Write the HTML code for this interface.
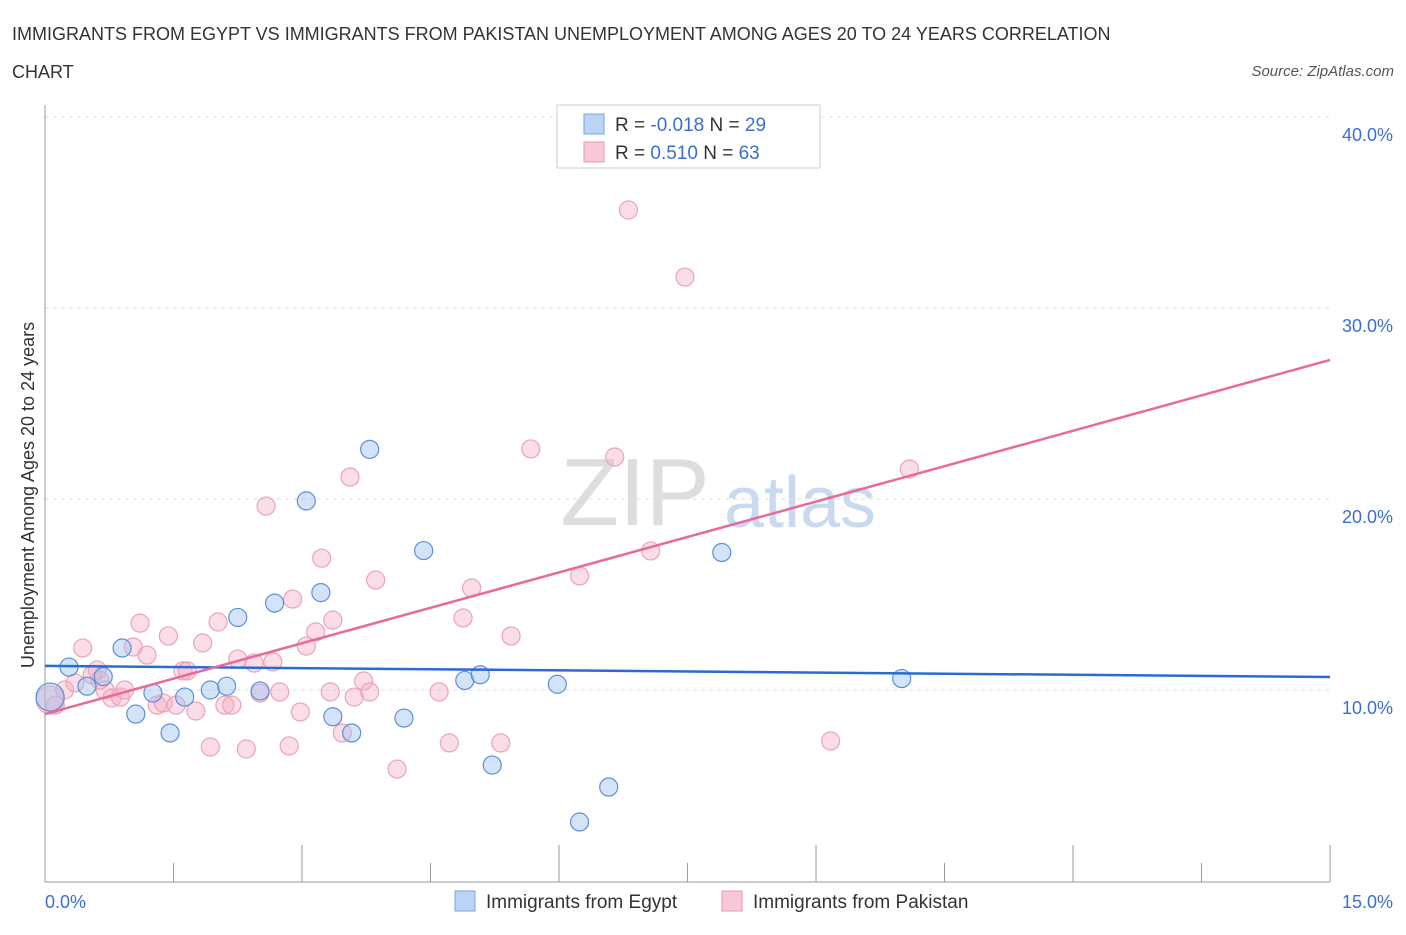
<!DOCTYPE html>
<html><head><meta charset="utf-8"><style>
body{margin:0;background:#fff;font-family:"Liberation Sans",sans-serif}
svg text{font-family:"Liberation Sans",sans-serif}
</style></head><body>
<svg id="c" width="1406" height="930">
<text x="12" y="40" font-size="18" fill="#333">IMMIGRANTS FROM EGYPT VS IMMIGRANTS FROM PAKISTAN UNEMPLOYMENT AMONG AGES 20 TO 24 YEARS CORRELATION</text>
<text x="12" y="78" font-size="18" fill="#333">CHART</text>
<text x="1394" y="76" font-size="15" fill="#555" text-anchor="end" font-style="italic">Source: ZipAtlas.com</text>
<text x="635" y="525" font-size="96" fill="#ddd" font-family="Liberation Serif" text-anchor="middle">ZIP</text>
<text x="800" y="527" font-size="72" fill="#c9daf0" text-anchor="middle">atlas</text>
<g id="grid"></g><g id="axes"></g><g id="pts"></g><g id="lines"></g>
<text transform="translate(34,495) rotate(-90)" font-size="18" fill="#333" text-anchor="middle">Unemployment Among Ages 20 to 24 years</text>
<text x="45" y="908" font-size="18" fill="#3a6fd0">0.0%</text>
<text x="1393" y="908" font-size="18" fill="#3a6fd0" text-anchor="end">15.0%</text>
<g>
<rect x="557" y="105" width="263" height="63" fill="#fff" stroke="#ccc"/>
<rect x="584" y="114" width="20" height="20" fill="#bcd4f6" stroke="#7aa3e0"/>
<rect x="584" y="142" width="20" height="20" fill="#f9c8d6" stroke="#e899b0"/>
<text x="615" y="131" font-size="19" fill="#333">R = <tspan fill="#3a6fd0">-0.018</tspan>   N = <tspan fill="#3a6fd0">29</tspan></text>
<text x="615" y="159" font-size="19" fill="#333">R =  <tspan fill="#3a6fd0"> 0.510</tspan>   N = <tspan fill="#3a6fd0">63</tspan></text>
</g>
<g>
<rect x="455" y="891" width="20" height="20" fill="#bcd4f6" stroke="#7aa3e0"/>
<text x="486" y="908" font-size="19" fill="#333">Immigrants from Egypt</text>
<rect x="722" y="891" width="20" height="20" fill="#f9c8d6" stroke="#e899b0"/>
<text x="753" y="908" font-size="19" fill="#333">Immigrants from Pakistan</text>
</g>
</svg>
<script>
const yTicks=[10,20,30,40];
const yTickLabels=["10.0%","20.0%","30.0%","40.0%"];
const egyptX=[0.06,0.28,0.49,0.68,0.90,1.06,1.26,1.46,1.63,1.93,2.12,2.25,2.51,2.68,3.05,3.22,3.36,3.58,3.79,4.19,4.42,4.90,5.08,5.22,5.98,6.58,6.24,7.90,10.0];
const egyptY=[9.63,11.2,10.2,10.7,12.2,8.74,9.84,7.75,9.63,10.0,10.2,13.8,9.95,14.55,19.9,15.1,8.6,7.75,22.6,8.53,17.3,10.5,10.8,6.07,10.3,4.92,3.09,17.2,10.6];
const pakX=[0.06,0.12,0.23,0.35,0.44,0.55,0.61,0.70,0.78,0.88,0.93,1.03,1.11,1.19,1.31,1.38,1.44,1.53,1.61,1.66,1.76,1.84,1.93,2.02,2.10,2.18,2.25,2.35,2.44,2.51,2.58,2.66,2.74,2.85,2.89,2.98,3.05,3.16,3.23,3.36,3.33,3.47,3.56,3.61,3.72,3.79,3.86,4.11,4.60,4.72,4.88,4.98,5.32,5.44,5.67,6.24,6.65,6.81,7.07,7.47,9.17,10.09,0.64];
const pakY=[9.48,9.21,10.0,10.37,12.2,10.79,11.05,10.0,9.58,9.63,10.0,12.25,13.5,11.83,9.21,9.32,12.83,9.21,11.0,11.0,8.9,12.46,7.02,13.56,9.21,9.21,11.62,6.91,11.41,9.84,19.63,11.47,9.9,7.07,14.76,8.85,12.3,13.04,16.9,13.66,9.9,7.75,21.15,9.63,10.47,9.9,15.76,5.86,9.9,7.23,13.77,15.34,7.23,12.83,22.62,15.97,22.2,35.13,17.28,31.62,7.33,21.57,10.52];
const egyptTrend=[11.26,10.68];
const pakTrend=[8.74,27.28];
const X=v=>45+v*85.67, Y=v=>881-v*19.1;
const NS="http://www.w3.org/2000/svg";
function mk(t,a,p){const e=document.createElementNS(NS,t);for(const k in a)e.setAttribute(k,a[k]);p.appendChild(e);return e;}
const grid=document.getElementById('grid'),axes=document.getElementById('axes'),pts=document.getElementById('pts'),lines=document.getElementById('lines');
yTicks.forEach((t,i)=>{
 const l=mk('line',{x1:45,x2:1330,y1:Y(t),y2:Y(t),stroke:'#ddd','stroke-dasharray':'4,4'},grid);
 
 
 const tx=mk('text',{x:1393,y:Y(t)+24,'font-size':18,fill:'#3a6fd0','text-anchor':'end'},grid);
 tx.textContent=yTickLabels[i];
 
 
});
const ax=mk('line',{x1:45,x2:1330,y1:882,y2:882,stroke:'#999'},axes);


const ay=mk('line',{x1:45,x2:45,y1:105,y2:882,stroke:'#999'},axes);


for(let i=0;i<=10;i++){const v=i*1.5;const t=mk('line',{x1:X(v),x2:X(v),y1:882,y2:i%2?863:845,stroke:'#999'},axes);
 
 }
pakX.forEach((x,i)=>{const c=mk('circle',{cx:X(x),cy:Y(pakY[i]),r:i==0?14:9,fill:'rgba(246,170,195,0.4)',stroke:'#eba3b9','stroke-width':1.2},pts);
 
 });
egyptX.forEach((x,i)=>{const c=mk('circle',{cx:X(x),cy:Y(egyptY[i]),r:i==0?14:9,fill:'rgba(160,195,240,0.45)',stroke:'#5b8fdc','stroke-width':1.2},pts);
 
 });
const le=mk('line',{x1:X(0),x2:X(15),y1:Y(egyptTrend[0]),y2:Y(egyptTrend[1]),stroke:'#2a6bd1','stroke-width':2.5},lines);


const lp=mk('line',{x1:X(0),x2:X(15),y1:Y(pakTrend[0]),y2:Y(pakTrend[1]),stroke:'#e8699a','stroke-width':2.5},lines);


</script>
</body></html>
